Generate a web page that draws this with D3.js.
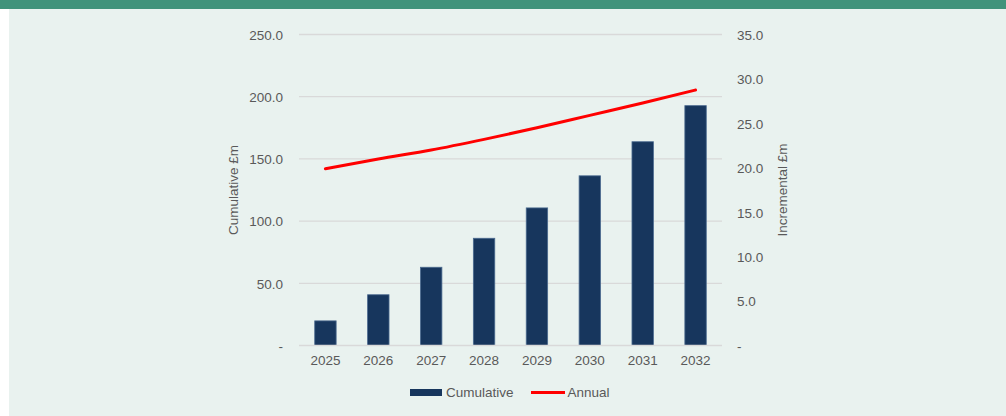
<!DOCTYPE html>
<html>
<head>
<meta charset="utf-8">
<script src="https://cdn.jsdelivr.net/npm/d3@7"></script>
<style>
  html, body { margin: 0; padding: 0; background: #ffffff; }
  svg { display: block; font-family: "Liberation Sans", Arial, sans-serif; }
</style>
</head>
<body>
<svg id="chart" width="1006" height="416"></svg>
<script>
const years = ["2025", "2026", "2027", "2028", "2029", "2030", "2031", "2032"];
const cumulative = [19.8, 40.8, 62.9, 86.2, 110.6, 136.4, 163.8, 192.8];
const annual = [19.9, 21.0, 22.0, 23.2, 24.5, 25.9, 27.3, 28.75];
const leftTicks = [0, 50, 100, 150, 200, 250];
const rightTicks = [0, 5, 10, 15, 20, 25, 30, 35];
const seriesNames = ["Cumulative", "Annual"];

const svg = d3.select("#chart");
const W = 1006, H = 416;
const FS = 13.5;

// background panels
svg.append("rect").attr("x", 0).attr("y", 0).attr("width", W).attr("height", H).attr("fill", "#ffffff");
svg.append("rect").attr("x", 9).attr("y", 9).attr("width", W - 9).attr("height", H - 9).attr("fill", "#e9f2ef");
svg.append("rect").attr("x", 0).attr("y", 0).attr("width", W).attr("height", 9).attr("fill", "#40937b");

const plot = { left: 299, right: 722, top: 34.5, bottom: 345.5 };

const x = d3.scaleBand().domain(years).range([plot.left, plot.right]).paddingInner(0.595).paddingOuter(0.2975);
const yL = d3.scaleLinear().domain([0, 250]).range([plot.bottom, plot.top]);
const yR = d3.scaleLinear().domain([0, 35]).range([plot.bottom, plot.top]);

const fmt = v => v === 0 ? "-" : d3.format(".1f")(v);
const textColor = "#595959";

// gridlines
svg.append("g").selectAll("line").data(leftTicks.filter(d => d > 0)).join("line")
  .attr("x1", plot.left).attr("x2", plot.right)
  .attr("y1", d => yL(d)).attr("y2", d => yL(d))
  .attr("stroke", "#d9d9d9").attr("stroke-width", 1.3);

// left axis
const axL = svg.append("g").attr("transform", `translate(${plot.left},0.5)`)
  .call(d3.axisLeft(yL).tickValues(leftTicks).tickFormat(fmt).tickSize(0).tickPadding(16));
axL.select(".domain").remove();
axL.selectAll("text").attr("fill", textColor).attr("font-size", FS).attr("font-family", "Liberation Sans, Arial, sans-serif");

// right axis
const axR = svg.append("g").attr("transform", `translate(${plot.right},0.5)`)
  .call(d3.axisRight(yR).tickValues(rightTicks).tickFormat(fmt).tickSize(0).tickPadding(15));
axR.select(".domain").remove();
axR.selectAll("text").attr("fill", textColor).attr("font-size", FS).attr("font-family", "Liberation Sans, Arial, sans-serif");

// bars
svg.append("g").selectAll("rect").data(years).join("rect")
  .attr("x", d => x(d)).attr("width", x.bandwidth())
  .attr("y", (d, i) => yL(cumulative[i]))
  .attr("height", (d, i) => yL(0) - yL(cumulative[i]))
  .attr("fill", "#17365d").attr("stroke", "#4b6a8f").attr("stroke-width", 0.8);

// baseline
svg.append("line").attr("x1", plot.left).attr("x2", plot.right)
  .attr("y1", yL(0)).attr("y2", yL(0)).attr("stroke", "#d9d9d9").attr("stroke-width", 1.5);

// x axis
const axX = svg.append("g").attr("transform", `translate(0,${plot.bottom})`)
  .call(d3.axisBottom(x).tickSize(0).tickPadding(10));
axX.select(".domain").remove();
axX.selectAll("text").attr("fill", textColor).attr("font-size", FS).attr("font-family", "Liberation Sans, Arial, sans-serif");

// annual line
const line = d3.line()
  .x((d, i) => x(years[i]) + x.bandwidth() / 2)
  .y(d => yR(d))
  .curve(d3.curveMonotoneX);
svg.append("path").datum(annual).attr("d", line)
  .attr("fill", "none").attr("stroke", "#ff0000").attr("stroke-width", 3).attr("stroke-linecap", "round");

// axis titles
svg.append("text").attr("transform", "translate(237.5,190) rotate(-90)")
  .attr("text-anchor", "middle").attr("fill", textColor).attr("font-size", FS)
  .text("Cumulative £m");
svg.append("text").attr("transform", "translate(787,190) rotate(-90)")
  .attr("text-anchor", "middle").attr("fill", textColor).attr("font-size", FS)
  .text("Incremental £m");

// legend
const lg = svg.append("g");
lg.append("rect").attr("x", 410).attr("y", 389).attr("width", 32).attr("height", 7).attr("fill", "#17365d");
lg.append("text").attr("x", 446).attr("y", 397).attr("fill", textColor).attr("font-size", FS).text(seriesNames[0]);
lg.append("line").attr("x1", 531).attr("x2", 565).attr("y1", 392.5).attr("y2", 392.5)
  .attr("stroke", "#ff0000").attr("stroke-width", 3);
lg.append("text").attr("x", 567.5).attr("y", 397).attr("fill", textColor).attr("font-size", FS).text(seriesNames[1]);
</script>
</body>
</html>
